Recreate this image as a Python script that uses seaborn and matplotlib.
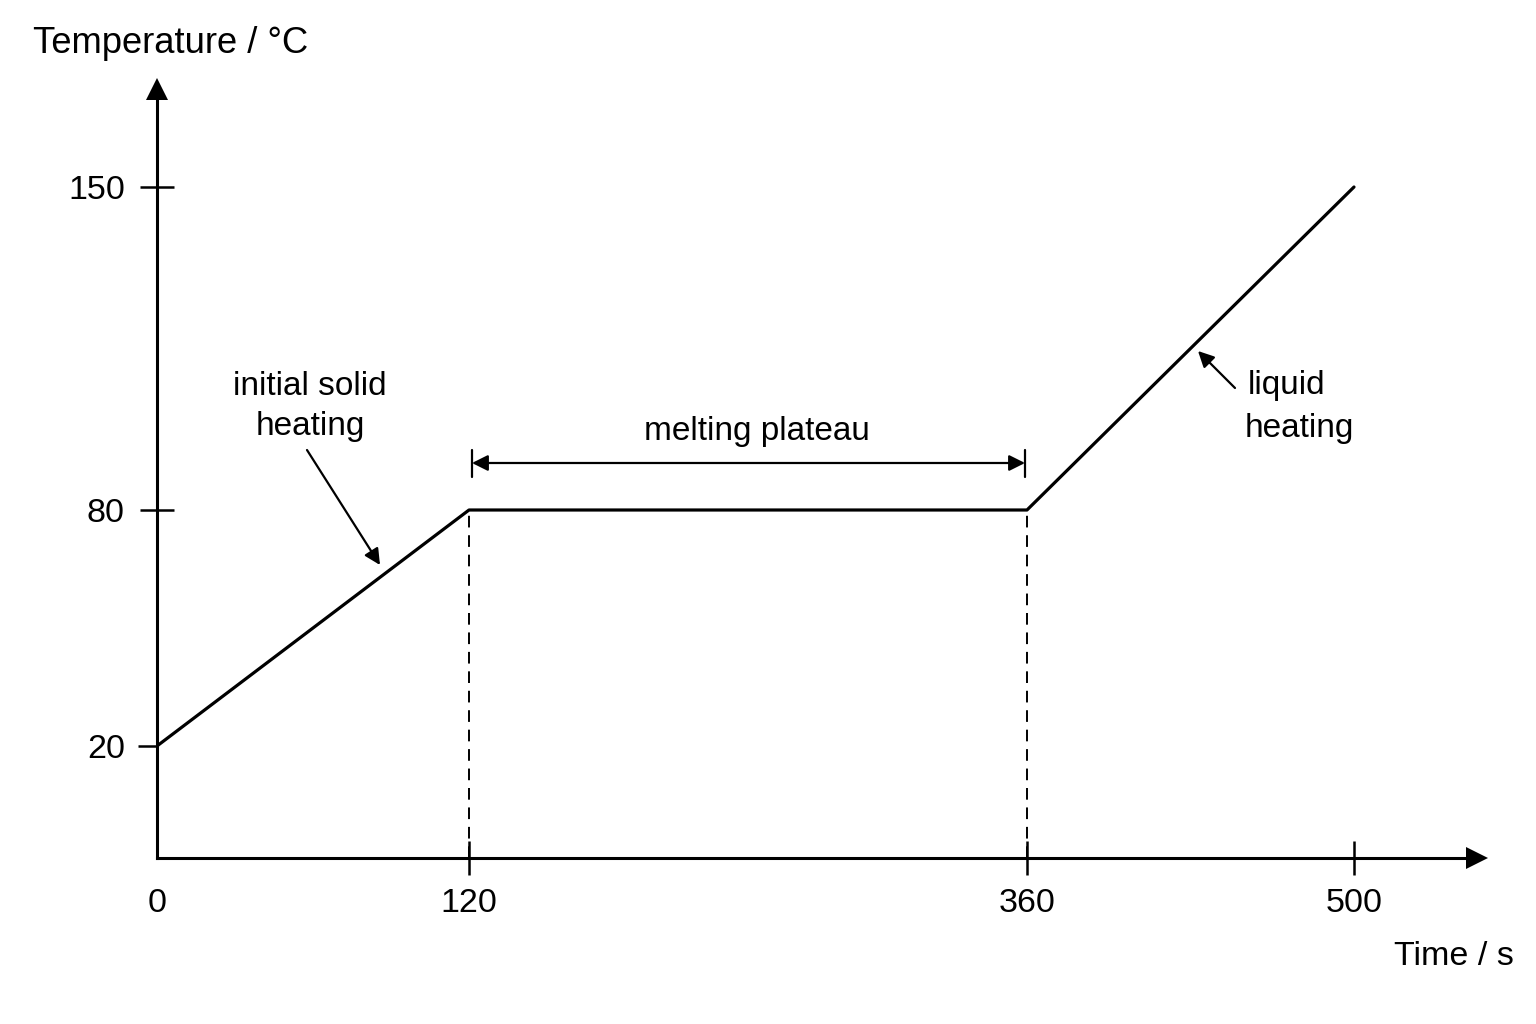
import numpy as np
import matplotlib
matplotlib.use("Agg")
import matplotlib.pyplot as plt
import seaborn as sns
import pandas as pd

# ---- data ----
time_s = [0, 120, 360, 500]
temperature_c = [20, 80, 80, 150]
plateau_times = [120, 360]
plateau_temps = [80, 80]
x_major_ticks = [120, 360, 500]
x_major_labels = ["120", "360", "500"]
x_minor_ticks = [0]
x_minor_labels = ["0"]
y_major_ticks = [80, 150]
y_major_labels = ["80", "150"]
y_minor_ticks = [20]
y_minor_labels = ["20"]

# ---- schematic (non-uniform) axis layout: data knots -> pixel offsets ----
x_knots = [-100, 0, 120, 360, 500, 800]
x_pix = [-260, 0, 312, 870, 1197, 1197 + 300 * 2.33]
y_knots = [-50, 0, 20, 80, 150, 300]
y_pix = [-280, 0, 112, 348, 671, 671 + 150 * 4.61]


def fx(v):
    return np.interp(v, x_knots, x_pix)


def ix(p):
    return np.interp(p, x_pix, x_knots)


def fy(v):
    return np.interp(v, y_knots, y_pix)


def iy(p):
    return np.interp(p, y_pix, y_knots)


sns.set_theme(style="white")
plt.rcParams["font.family"] = ["Liberation Sans", "DejaVu Sans"]
plt.rcParams["text.color"] = "black"

W, H = 1536, 1024
fig = plt.figure(figsize=(W / 100, H / 100), dpi=100)
fig.patch.set_facecolor("white")

ax_l, ax_r, ax_b, ax_t = 157, 1477, 858, 89
ax = fig.add_axes([ax_l / W, (H - ax_b) / H, (ax_r - ax_l) / W, (ax_b - ax_t) / H])
ax.set_facecolor("white")


def F(x, y):
    return (x / W, 1 - y / H)


df = pd.DataFrame({"Time / s": time_s, "Temperature / °C": temperature_c})

ax.set_xscale("function", functions=(fx, ix))
ax.set_yscale("function", functions=(fy, iy))

sns.lineplot(data=df, x="Time / s", y="Temperature / °C", ax=ax,
             color="black", linewidth=2.3, zorder=4, sort=False)

ax.vlines(plateau_times, 0, plateau_temps, colors="black",
          linewidth=1.4, linestyles=(0, (6, 4)), zorder=3)

ax.set_xlim(0, float(ix(ax_r - ax_l)))
ax.set_ylim(0, float(iy(ax_b - ax_t)))

for s in ["top", "right"]:
    ax.spines[s].set_visible(False)
for s in ["left", "bottom"]:
    ax.spines[s].set_linewidth(2.2)
    ax.spines[s].set_color("black")

ax.set_xlabel("")
ax.set_ylabel("")

ax.set_xticks(x_major_ticks)
ax.set_xticklabels(x_major_labels)
ax.set_xticks(x_minor_ticks, minor=True)
ax.set_xticklabels(x_minor_labels, minor=True)
ax.set_yticks(y_major_ticks)
ax.set_yticklabels(y_major_labels)
ax.set_yticks(y_minor_ticks, minor=True)
ax.set_yticklabels(y_minor_labels, minor=True)

ax.tick_params(axis="x", which="major", direction="inout", length=24.5,
               width=1.8, pad=9.4, labelsize=24.5, colors="black", bottom=True)
ax.tick_params(axis="x", which="minor", direction="out", length=0,
               pad=21.6, labelsize=24.5, colors="black", bottom=True)
ax.tick_params(axis="y", which="major", direction="inout", length=24.5,
               width=1.8, pad=10.8, labelsize=24.5, colors="black", left=True)
ax.tick_params(axis="y", which="minor", direction="out", length=13.7,
               width=1.8, pad=9.3, labelsize=24.5, colors="black", left=True)
for lab in ax.get_xticklabels(minor=True):
    lab.set_x(-2)

# axis arrowheads
ax.plot([1], [0], marker=">", color="black", ms=15.5, mew=0,
        transform=ax.transAxes, clip_on=False, zorder=5)
ax.plot([0], [1], marker="^", color="black", ms=15.5, mew=0,
        transform=ax.transAxes, clip_on=False, zorder=5)

# axis titles
fig.text(*F(33, 53), "Temperature / °C", fontsize=26.2, ha="left",
         va="baseline", color="black")
fig.text(*F(1514, 965), "Time / s", fontsize=24.5, ha="right",
         va="baseline", color="black")

# annotations
tkw = dict(fontsize=24, va="baseline", color="black")
fig.text(*F(310, 395), "initial solid", ha="center", **tkw)
fig.text(*F(310, 435), "heating", ha="center", **tkw)
fig.text(*F(757, 440), "melting plateau", ha="center", **tkw)
fig.text(*F(1248, 394), "liquid", ha="left", **tkw)
fig.text(*F(1245, 437), "heating", ha="left", **tkw)

akw = dict(xycoords="figure fraction", textcoords="figure fraction")
ax.annotate("", xy=F(380, 565), xytext=F(307, 450), **akw,
            arrowprops=dict(arrowstyle="-|>", lw=1.6, color="black",
                            mutation_scale=24, shrinkA=0, shrinkB=0))
ax.annotate("", xy=F(1198, 351), xytext=F(1235, 388), **akw,
            arrowprops=dict(arrowstyle="-|>", lw=1.6, color="black",
                            mutation_scale=24, shrinkA=0, shrinkB=0))
ax.annotate("", xy=F(472, 463), xytext=F(1025, 463), **akw,
            arrowprops=dict(arrowstyle="<|-|>", lw=1.6, color="black",
                            mutation_scale=24, shrinkA=0, shrinkB=0))
for bx in (472, 1025):
    x0, y0 = F(bx, 450)
    x1, y1 = F(bx, 477)
    ax.plot([x0, x1], [y0, y1], color="black", lw=1.6,
            transform=fig.transFigure, clip_on=False)

fig.savefig("out.png", dpi=100, facecolor="white")
